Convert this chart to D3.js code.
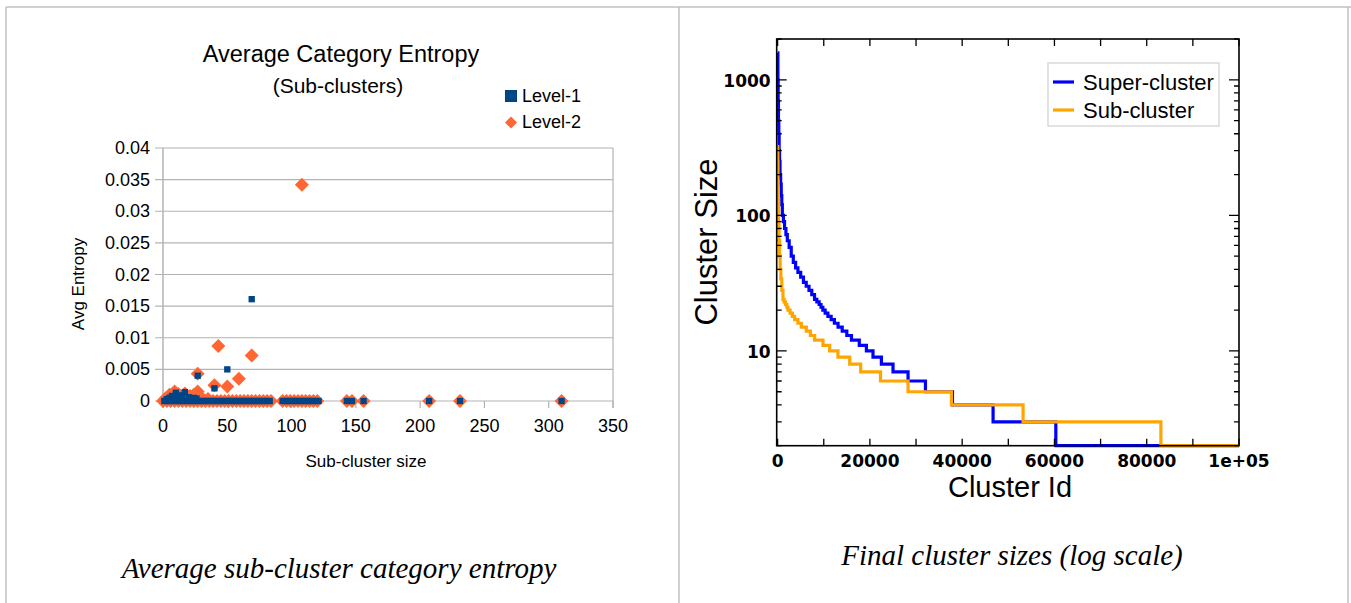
<!DOCTYPE html>
<html>
<head>
<meta charset="utf-8">
<script src="https://cdn.jsdelivr.net/npm/d3@7"></script>
<style>
  body { margin: 0; background: white; }
  text { font-family: "Liberation Sans", Arial, sans-serif; }
</style>
</head>
<body>
<div id="chart"></div>
<script>
// ---- left chart: average category entropy (sub-clusters) ----
var level1Size = [1, 3, 5, 7, 9, 11, 13, 15, 17, 19, 21, 23, 25, 27, 29, 31, 33, 35, 37, 39, 41,
  43, 45, 47, 49, 51, 53, 55, 57, 59, 61, 63, 65, 67, 69, 71, 73, 75, 77, 79, 81, 83,
  93, 95, 97, 99, 101, 103, 105, 107, 109, 111, 113, 115, 117, 119, 121, 143, 147, 156, 207, 231, 310,
  69, 50, 27, 40, 10, 17, 5, 7, 12, 15, 20, 24, 26, 3, 9];
var level1Entropy = [0, 0, 0, 0, 0, 0, 0, 0, 0, 0, 0, 0, 0, 0, 0, 0, 0, 0, 0, 0, 0,
  0, 0, 0, 0, 0, 0, 0, 0, 0, 0, 0, 0, 0, 0, 0, 0, 0, 0, 0, 0, 0,
  0, 0, 0, 0, 0, 0, 0, 0, 0, 0, 0, 0, 0, 0, 0, 0, 0, 0, 0, 0, 0,
  0.0161, 0.0050, 0.0040, 0.0020, 0.0013, 0.0014, 0.0005, 0.0008, 0.0007, 0.0009, 0.0006, 0.0005, 0.0004, 0.0003, 0.0006];
var level2Size = [0, 3, 6, 9, 12, 15, 18, 21, 24, 27, 30, 33, 36, 39, 42, 45, 48, 51, 54, 57, 60,
  63, 66, 69, 72, 75, 78, 81, 84, 93, 96, 99, 102, 105, 108, 111, 114, 117, 120, 143, 147, 156, 207, 231, 310,
  108, 43, 69, 27, 59, 40, 50, 27, 9, 5, 12, 17, 21, 24, 30, 2, 14, 35];
var level2Entropy = [0, 0, 0, 0, 0, 0, 0, 0, 0, 0, 0, 0, 0, 0, 0, 0, 0, 0, 0, 0, 0,
  0, 0, 0, 0, 0, 0, 0, 0, 0, 0, 0, 0, 0, 0, 0, 0, 0, 0, 0, 0, 0, 0, 0, 0,
  0.0342, 0.0087, 0.0072, 0.0043, 0.0035, 0.0025, 0.0023, 0.0015, 0.0015, 0.0010, 0.0011, 0.0012, 0.0008, 0.0010, 0.0005, 0.0004, 0.0006, 0.0003];
var entropyTicks = [0, 0.005, 0.01, 0.015, 0.02, 0.025, 0.03, 0.035, 0.04];
var entropyLabels = ['0', '0.005', '0.01', '0.015', '0.02', '0.025', '0.03', '0.035', '0.04'];
var sizeTicks = [0, 50, 100, 150, 200, 250, 300, 350];

// ---- right chart: final cluster sizes (log scale) ----
var superId = [0, 60, 120, 180, 250, 330, 420, 520, 650, 780, 900, 1020, 1250, 1500, 1800, 2100, 2500,
  2950, 3400, 3900, 4400, 5000, 5600, 6200, 6800, 7400, 8000, 8500, 9000, 9400, 9800, 10300, 10900,
  11600, 12300, 13100, 14000, 15000, 16000, 17700, 19240, 20670, 22490, 25010, 28270, 32040, 37900,
  46700, 60300, 100000];
var superSize = [1580, 1000, 700, 500, 400, 300, 250, 200, 170, 140, 120, 100, 90, 80, 72, 65, 58,
  50, 45, 41, 38, 35, 32, 30, 28, 26, 24, 23, 22, 21, 20, 19, 18,
  17, 16, 15, 14, 13, 12, 11, 10, 9, 8, 7, 6, 5, 4,
  3, 2, 2];
var subId = [0, 40, 80, 130, 200, 300, 420, 550, 700, 900, 1160, 1400, 1700, 2000, 2240, 2700, 3200,
  3700, 4400, 5130, 6220, 7100, 8030, 9830, 11280, 13080, 15620, 18000, 22300, 28270, 37670, 53200,
  83070, 100000];
var subSize = [321, 250, 180, 130, 90, 65, 50, 40, 34, 28, 24, 23, 22, 21, 20, 19, 18,
  17, 16, 15, 14, 13, 12, 11, 10, 9, 8, 7, 6, 5, 4, 3,
  2, 2];
var idTicks = [0, 20000, 40000, 60000, 80000, 100000];
var idTickLabels = ['0', '20000', '40000', '60000', '80000', '1e+05'];
var idMinorTicks = [10000, 30000, 50000, 70000, 90000];
var logTicks = [10, 100, 1000];

var W = 1351, H = 603;
var svg = d3.select('#chart').append('svg')
  .attr('width', W)
  .attr('height', H)
  .style('display', 'block');

// page frame
var frame = svg.append('g')
  .attr('stroke', '#c0c0c0')
  .attr('stroke-width', 1.5);
frame.append('line').attr('x1', 6).attr('x2', 1351).attr('y1', 7).attr('y2', 7);
frame.append('line').attr('x1', 6).attr('x2', 6).attr('y1', 7).attr('y2', H);
frame.append('line').attr('x1', 679).attr('x2', 679).attr('y1', 7).attr('y2', H);
frame.append('line').attr('x1', 1348).attr('x2', 1348).attr('y1', 7).attr('y2', H);

// ================= left chart =================
var xL = d3.scaleLinear().domain([0, 350]).range([163, 613]);
var yL = d3.scaleLinear().domain([0, 0.04]).range([401, 148]);
var left = svg.append('g');

left.append('g').selectAll('line')
  .data(entropyTicks)
  .enter().append('line')
  .attr('x1', xL(0) - 8).attr('x2', xL(350))
  .attr('y1', function(d) { return yL(d); })
  .attr('y2', function(d) { return yL(d); })
  .attr('stroke', '#b3b3b3')
  .attr('stroke-width', 1.2);

left.append('line')
  .attr('x1', xL(0)).attr('x2', xL(0))
  .attr('y1', yL(0.04)).attr('y2', yL(0) + 7)
  .attr('stroke', '#b3b3b3').attr('stroke-width', 1.5);
left.append('line')
  .attr('x1', xL(350)).attr('x2', xL(350))
  .attr('y1', yL(0.04)).attr('y2', yL(0) + 7)
  .attr('stroke', '#b3b3b3').attr('stroke-width', 1.2);
left.append('g').selectAll('line')
  .data(sizeTicks)
  .enter().append('line')
  .attr('x1', function(d) { return xL(d); })
  .attr('x2', function(d) { return xL(d); })
  .attr('y1', yL(0)).attr('y2', yL(0) + 7)
  .attr('stroke', '#b3b3b3').attr('stroke-width', 1.2);

left.append('g').selectAll('text')
  .data(entropyTicks)
  .enter().append('text')
  .attr('x', xL(0) - 13)
  .attr('y', function(d) { return yL(d) + 6; })
  .attr('text-anchor', 'end')
  .style('font-size', '18px')
  .text(function(d, i) { return entropyLabels[i]; });
left.append('g').selectAll('text')
  .data(sizeTicks)
  .enter().append('text')
  .attr('x', function(d) { return xL(d); })
  .attr('y', 432)
  .attr('text-anchor', 'middle')
  .style('font-size', '18px')
  .text(function(d) { return d; });

left.append('text').attr('x', 366).attr('y', 467)
  .attr('text-anchor', 'middle').style('font-size', '17px')
  .text('Sub-cluster size');
left.append('text')
  .attr('transform', 'translate(84,284) rotate(-90)')
  .attr('text-anchor', 'middle').style('font-size', '17px')
  .text('Avg Entropy');
left.append('text').attr('x', 341).attr('y', 62)
  .attr('text-anchor', 'middle').style('font-size', '23.5px')
  .text('Average Category Entropy');
left.append('text').attr('x', 338).attr('y', 93)
  .attr('text-anchor', 'middle').style('font-size', '21px')
  .text('(Sub-clusters)');

var orange = '#ff6633', navy = '#004586';
left.append('g').selectAll('path')
  .data(level2Size)
  .enter().append('path')
  .attr('d', d3.symbol(d3.symbolSquare, 98))
  .attr('transform', function(d, i) {
    return 'translate(' + xL(d) + ',' + yL(level2Entropy[i]) + ') rotate(45)';
  })
  .attr('fill', orange);
left.append('g').selectAll('path')
  .data(level1Size)
  .enter().append('path')
  .attr('d', d3.symbol(d3.symbolSquare, 40))
  .attr('transform', function(d, i) {
    return 'translate(' + xL(d) + ',' + yL(level1Entropy[i]) + ')';
  })
  .attr('fill', navy);

// legend
left.append('rect').attr('x', 505).attr('y', 90).attr('width', 12).attr('height', 12).attr('fill', navy);
left.append('path').attr('d', d3.symbol(d3.symbolSquare, 72))
  .attr('transform', 'translate(511,122.5) rotate(45)').attr('fill', orange);
left.append('text').attr('x', 522).attr('y', 102).style('font-size', '18px').text('Level-1');
left.append('text').attr('x', 522).attr('y', 128).style('font-size', '18px').text('Level-2');

left.append('text').attr('x', 339).attr('y', 578)
  .attr('text-anchor', 'middle')
  .style('font-family', '"Liberation Serif", serif')
  .style('font-style', 'italic')
  .style('font-size', '29px')
  .text('Average sub-cluster category entropy');

// ================= right chart =================
var px0 = 776.7, px1 = 1239, py0 = 39, py1 = 445.7;
var xR = d3.scaleLinear().domain([-200, 100000]).range([px0, px1]);
var yR = d3.scaleLog().domain([2, 2000]).range([py1, py0]);
var right = svg.append('g');

var superData = superId.map(function(d, i) { return [d, superSize[i]]; });
var subData = subId.map(function(d, i) { return [d, subSize[i]]; });
var stepLine = d3.line()
  .x(function(d) { return xR(d[0]); })
  .y(function(d) { return yR(d[1]); })
  .curve(d3.curveStepAfter);

right.append('path').datum(superData)
  .attr('d', stepLine)
  .attr('fill', 'none').attr('stroke', '#0000ff').attr('stroke-width', 3.2);
right.append('path').datum(subData)
  .attr('d', stepLine)
  .attr('fill', 'none').attr('stroke', '#ffa500').attr('stroke-width', 3.2);

// ticks
var minorY = [];
[2, 3, 4, 5, 6, 7, 8, 9].forEach(function(m) {
  [1, 10, 100, 1000].forEach(function(p) {
    var v = m * p;
    if (v >= 2 && v <= 2000) minorY.push(v);
  });
});
var tk = right.append('g').attr('stroke', '#000').attr('stroke-width', 1.3);
tk.selectAll('.ymin').data(minorY).enter().append('path')
  .attr('d', function(d) {
    var y = yR(d);
    return 'M' + px0 + ',' + y + 'h5M' + px1 + ',' + y + 'h-5';
  });
tk.selectAll('.ymaj').data(logTicks).enter().append('path')
  .attr('d', function(d) {
    var y = yR(d);
    return 'M' + px0 + ',' + y + 'h10M' + px1 + ',' + y + 'h-10';
  });
tk.selectAll('.xt').data(idTicks.concat(idMinorTicks)).enter().append('path')
  .attr('d', function(d) {
    var x = xR(d);
    return 'M' + x + ',' + py1 + 'v-7M' + x + ',' + py0 + 'v7';
  });

right.append('rect')
  .attr('x', px0).attr('y', py0)
  .attr('width', px1 - px0).attr('height', py1 - py0)
  .attr('fill', 'none').attr('stroke', '#000').attr('stroke-width', 1.6);

right.append('g').selectAll('text')
  .data(logTicks)
  .enter().append('text')
  .attr('x', px0 - 6)
  .attr('y', function(d) { return yR(d) + 7; })
  .attr('text-anchor', 'end')
  .style('font-family', '"DejaVu Sans", sans-serif')
  .style('font-weight', 'bold')
  .style('font-size', '17px')
  .text(function(d) { return d; });
right.append('g').selectAll('text')
  .data(idTicks)
  .enter().append('text')
  .attr('x', function(d) { return xR(d); })
  .attr('y', 467)
  .attr('text-anchor', 'middle')
  .style('font-family', '"DejaVu Sans", sans-serif')
  .style('font-weight', 'bold')
  .style('font-size', '17px')
  .text(function(d, i) { return idTickLabels[i]; });

right.append('text').attr('x', 1010).attr('y', 497)
  .attr('text-anchor', 'middle').style('font-size', '29px')
  .text('Cluster Id');
right.append('text')
  .attr('transform', 'translate(717,242) rotate(-90)')
  .attr('text-anchor', 'middle').style('font-size', '31px')
  .text('Cluster Size');

// legend
right.append('rect').attr('x', 1048).attr('y', 63).attr('width', 171).attr('height', 63)
  .attr('fill', 'white').attr('stroke', '#d0d0d0').attr('stroke-width', 1.2);
right.append('line').attr('x1', 1053).attr('x2', 1074).attr('y1', 82).attr('y2', 82)
  .attr('stroke', '#0000ff').attr('stroke-width', 3.2);
right.append('line').attr('x1', 1053).attr('x2', 1074).attr('y1', 110).attr('y2', 110)
  .attr('stroke', '#ffa500').attr('stroke-width', 3.2);
right.append('text').attr('x', 1083).attr('y', 90).style('font-size', '22px').text('Super-cluster');
right.append('text').attr('x', 1083).attr('y', 118).style('font-size', '22px').text('Sub-cluster');

right.append('text').attr('x', 1012).attr('y', 565)
  .attr('text-anchor', 'middle')
  .style('font-family', '"Liberation Serif", serif')
  .style('font-style', 'italic')
  .style('font-size', '29px')
  .text('Final cluster sizes (log scale)');
</script>
</body>
</html>
